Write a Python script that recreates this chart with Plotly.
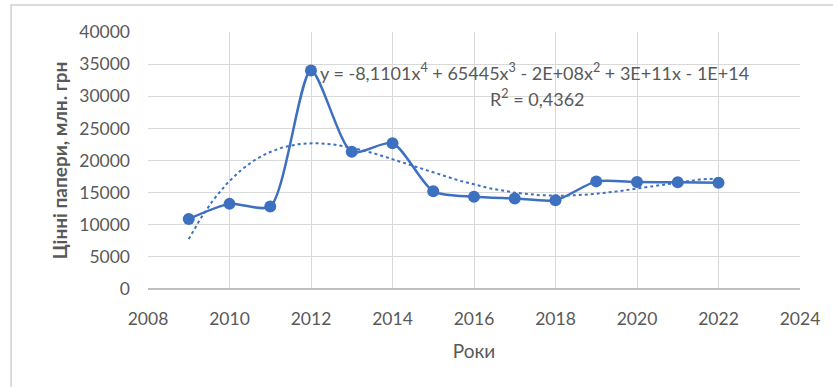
import numpy as np
import plotly.graph_objects as go

# Annual values of securities, mln UAH
years = [2009, 2010, 2011, 2012, 2013, 2014, 2015, 2016, 2017, 2018, 2019, 2020, 2021, 2022]
values = [10900, 13250, 12850, 34000, 21350, 22700, 15200, 14350, 14100, 13800, 16750, 16650, 16600, 16550]

x_ticks = list(range(2008, 2025, 2))
y_ticks = list(range(0, 40001, 5000))
y_tick_labels = [str(v) for v in y_ticks]

equation_text = "y = -8,1101x<sup>4</sup> + 65445x<sup>3</sup> - 2E+08x<sup>2</sup> + 3E+11x - 1E+14"
r2_text = "R<sup>2</sup> = 0,4362"

LINE_COLOR = "#3e70c0"
TEXT_COLOR = "#595959"
GRID_COLOR = "#d9d9d9"
FONT = "Lato, 'Open Sans', sans-serif"

# 4th-order polynomial trend fitted to the series (centred x for stability)
xa = np.array(years, dtype=float)
ya = np.array(values, dtype=float)
x0 = xa.mean()
coef = np.polyfit(xa - x0, ya, 4)
xt = np.linspace(xa.min(), xa.max(), 200)
yt = np.polyval(coef, xt - x0)

fig = go.Figure()
fig.add_trace(go.Scatter(
    x=xt, y=yt, mode="lines",
    line=dict(color=LINE_COLOR, width=2, dash="dot"),
    hoverinfo="skip", showlegend=False,
))
fig.add_trace(go.Scatter(
    x=years, y=values, mode="lines+markers",
    line=dict(color=LINE_COLOR, width=2.5, shape="spline", smoothing=0.7),
    marker=dict(color=LINE_COLOR, size=12),
    showlegend=False,
))

fig.add_annotation(x=years[3], y=values[3], xref="x", yref="y",
                   text=equation_text, showarrow=False, xanchor="left",
                   xshift=7, yshift=-1,
                   font=dict(family=FONT, size=18, color=TEXT_COLOR))
fig.add_annotation(x=2017.55, y=29800, xref="x", yref="y",
                   text=r2_text, showarrow=False, xanchor="center",
                   font=dict(family=FONT, size=18, color=TEXT_COLOR))

# outer chart frame
fig.add_shape(type="rect", xref="paper", yref="paper",
              x0=-0.210, x1=1.2, y0=-0.6, y1=1.105,
              line=dict(color="#d0d0d0", width=1.5), layer="below")

fig.update_layout(
    width=833, height=387,
    margin=dict(l=148, r=33, t=32, b=98),
    paper_bgcolor="white", plot_bgcolor="white",
    font=dict(family=FONT, color=TEXT_COLOR),
)
fig.update_xaxes(
    range=[2008, 2024], tickvals=x_ticks, ticks="",
    showgrid=True, gridcolor=GRID_COLOR, gridwidth=1,
    zeroline=False, showline=False,
    ticklabelstandoff=17,
    tickfont=dict(size=17.5, color=TEXT_COLOR),
    title=dict(text="Роки", font=dict(size=19, color=TEXT_COLOR), standoff=17),
)
fig.update_yaxes(
    range=[0, 40000], tickvals=y_ticks, ticktext=y_tick_labels, ticks="",
    showgrid=True, gridcolor=GRID_COLOR, gridwidth=1,
    zeroline=True, zerolinecolor="#bfbfbf", zerolinewidth=2,
    showline=False,
    ticklabelstandoff=17,
    tickfont=dict(size=17.5, color=TEXT_COLOR),
    title=dict(text="<b>Цінні папери, млн. грн</b>",
               font=dict(size=19, color=TEXT_COLOR), standoff=6),
)

fig.write_html("out.html")
